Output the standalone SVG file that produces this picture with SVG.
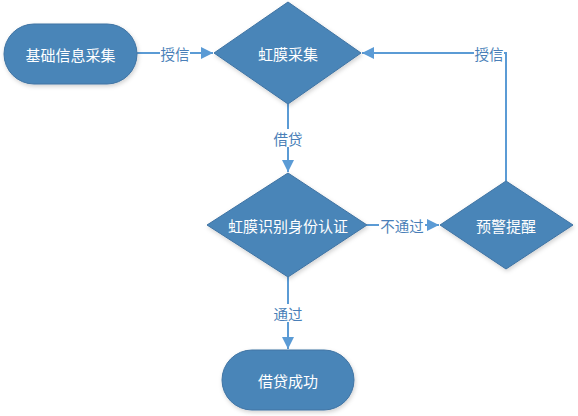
<svg xmlns="http://www.w3.org/2000/svg" width="578" height="416" viewBox="0 0 578 416">
<defs>
<marker id="arr" viewBox="0 0 10 10" refX="10" refY="5" markerWidth="13" markerHeight="12" markerUnits="userSpaceOnUse" orient="auto">
<path d="M0,0 L10,5 L0,10 z" fill="#5B9BD5"/>
</marker>
<filter id="sh" x="-10%" y="-10%" width="130%" height="130%">
<feDropShadow dx="1" dy="2" stdDeviation="2" flood-color="#000" flood-opacity="0.18"/>
</filter>
</defs>
<style>
.n{fill:#4A85B8;stroke:#3E73A3;stroke-width:1;filter:url(#sh)}
.t{fill:#fff;font-family:"Noto Sans CJK SC","Liberation Sans",sans-serif;font-size:15px;text-anchor:middle;dominant-baseline:central}
.c{fill:none;stroke:#5B9BD5;stroke-width:2}
.l{fill:#4A7FB8;font-family:"Noto Sans CJK SC","Liberation Sans",sans-serif;font-size:14.5px;text-anchor:middle;dominant-baseline:central}
.lb{fill:#fff}
</style>
<g id="connectors">
<path class="c" d="M137,53 H213" marker-end="url(#arr)"/>
<path class="c" d="M506,181 V53 H362" marker-end="url(#arr)"/>
<path class="c" d="M288,104 V172" marker-end="url(#arr)"/>
<path class="c" d="M367,225 H439" marker-end="url(#arr)"/>
<path class="c" d="M288,277 V349" marker-end="url(#arr)"/>
<rect class="lb" x="160" y="44" width="30" height="18"/>
<text class="l" x="175" y="53">授信</text>
<rect class="lb" x="474" y="44" width="30" height="18"/>
<text class="l" x="489" y="53">授信</text>
<rect class="lb" x="273" y="129" width="30" height="18"/>
<text class="l" x="288" y="138">借贷</text>
<rect class="lb" x="379" y="216" width="46" height="18"/>
<text class="l" x="402" y="225">不通过</text>
<rect class="lb" x="273" y="304" width="30" height="18"/>
<text class="l" x="288" y="313">通过</text>
</g>
<g id="node-basic">
<rect class="n" x="4" y="24" width="133" height="60" rx="30"/>
<text class="t" x="70.5" y="54">基础信息采集</text>
</g>
<g id="node-iris-collect">
<polygon class="n" points="288,2 361,53 288,104 214,53"/>
<text class="t" x="288" y="53">虹膜采集</text>
</g>
<g id="node-iris-auth">
<polygon class="n" points="288,173 367,225 288,277 207,225"/>
<text class="t" x="288" y="225">虹膜识别身份认证</text>
</g>
<g id="node-warn">
<polygon class="n" points="506,181 573,225 506,269 440,225"/>
<text class="t" x="506" y="225">预警提醒</text>
</g>
<g id="node-success">
<rect class="n" x="222" y="350" width="132" height="60" rx="30"/>
<text class="t" x="288" y="380">借贷成功</text>
</g>
</svg>
